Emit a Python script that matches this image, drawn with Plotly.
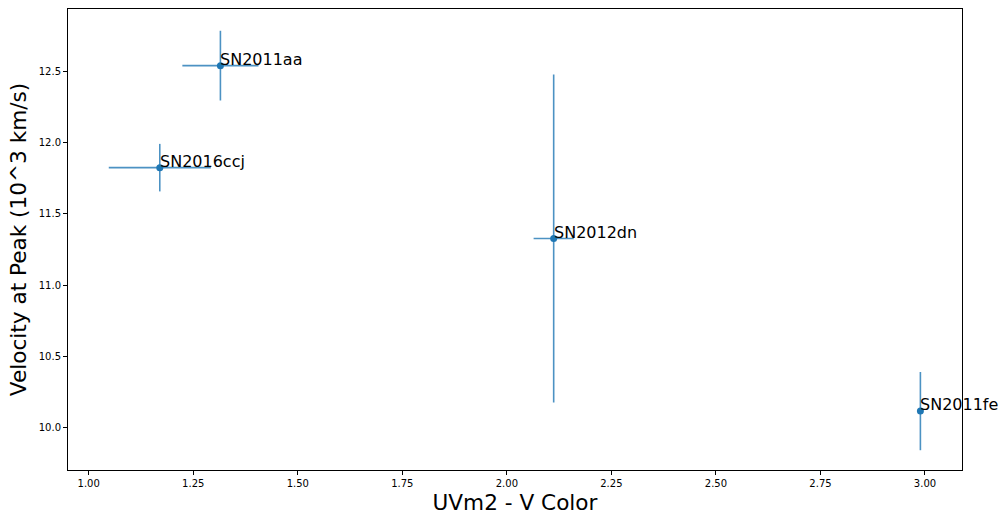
import plotly.graph_objects as go

# Supernova measurements: UVm2 - V colour vs. velocity at peak
names = ["SN2011aa", "SN2016ccj", "SN2012dn", "SN2011fe"]
color_uvm2_v = [1.315, 1.170, 2.112, 2.989]
color_err = [0.091, 0.122, 0.048, 0.0]
velocity = [12.542, 11.825, 11.327, 10.114]
velocity_err = [0.245, 0.167, 1.152, 0.275]

x_ticks = [1.00, 1.25, 1.50, 1.75, 2.00, 2.25, 2.50, 2.75, 3.00]
y_ticks = [10.0, 10.5, 11.0, 11.5, 12.0, 12.5]

FONT = "DejaVu Sans"
BLUE = "#1f77b4"
BAR = "rgba(31,119,180,0.8)"

fig = go.Figure()
fig.add_trace(go.Scatter(
    x=color_uvm2_v,
    y=velocity,
    mode="markers",
    marker=dict(color=BLUE, size=7),
    error_x=dict(type="data", array=color_err, visible=True,
                 color=BAR, thickness=1.6, width=0),
    error_y=dict(type="data", array=velocity_err, visible=True,
                 color=BAR, thickness=1.6, width=0),
    showlegend=False,
    hoverinfo="skip",
))

for n, x, y in zip(names, color_uvm2_v, velocity):
    fig.add_annotation(
        x=x, y=y, text=n, showarrow=False,
        xanchor="left", yanchor="bottom",
        xshift=-2, yshift=-5,
        font=dict(family=FONT, size=16, color="black"),
    )

axis_common = dict(
    showline=True, linecolor="black", linewidth=1, mirror=True,
    ticks="outside", ticklen=4, tickwidth=1, tickcolor="black",
    showgrid=False, zeroline=False,
    tickfont=dict(family=FONT, size=10, color="black"),
    title_font=dict(family=FONT, size=21.6, color="black"),
)

fig.update_xaxes(
    range=[0.9505, 3.0885],
    tickvals=x_ticks,
    ticktext=[f"{v:.2f}" for v in x_ticks],
    title_text="UVm2 - V Color",
    title_standoff=6,
    **axis_common,
)
fig.update_yaxes(
    range=[9.70, 12.94],
    tickvals=y_ticks,
    ticktext=[f"{v:.1f}" for v in y_ticks],
    title_text="Velocity at Peak (10^3 km/s)",
    title_standoff=6,
    **axis_common,
)

fig.update_layout(
    width=1001, height=518,
    margin=dict(l=68, r=39, t=8, b=46),
    paper_bgcolor="white",
    plot_bgcolor="white",
)

fig.write_html("out.html")
